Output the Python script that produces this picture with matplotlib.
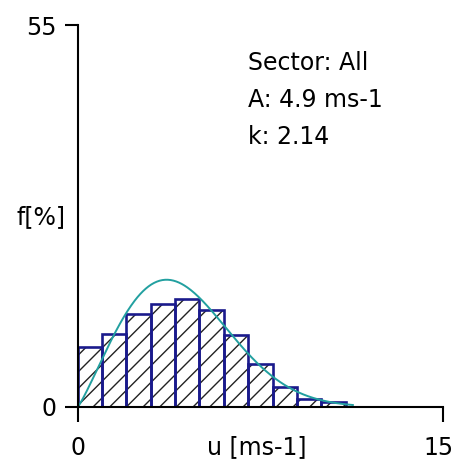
import numpy as np
import matplotlib
matplotlib.use('Agg')
import matplotlib.pyplot as plt
import matplotlib.transforms as mtransforms

# wind speed bins [m/s] and observed frequency [%]
bin_lo = [0, 1, 2, 3, 4, 5, 6, 7, 8, 9, 10]
freq = [8.7, 10.5, 13.4, 14.9, 15.6, 14.0, 10.3, 6.2, 2.9, 1.2, 0.7]

# fitted Weibull parameters
A = 4.9
k = 2.14
u_max = 11.3

plt.rcParams['font.family'] = ['DejaVu Sans']
plt.rcParams['hatch.linewidth'] = 1.0

fig = plt.figure(figsize=(4.56, 4.59), dpi=100)
ax = fig.add_axes([0.1704, 0.1133, 0.801, 0.832])

# hatch first (black), then navy outlines on top
ax.bar(bin_lo, freq, width=1.0, align='edge', facecolor='white',
       edgecolor='#222222', linewidth=0, hatch='//')
ax.bar(bin_lo, freq, width=1.0, align='edge', fill=False,
       edgecolor='#1a1a8c', linewidth=1.9)

u = np.linspace(0, u_max, 300)
f = 100 * (k / A) * (u / A) ** (k - 1) * np.exp(-(u / A) ** k)
ax.plot(u, f, color='#22a0a0', linewidth=1.4)

ax.set_xlim(0, 15)
ax.set_ylim(0, 55)
ax.set_xticks([0, 15])
ax.set_yticks([0, 55])
for side in ['top', 'right']:
    ax.spines[side].set_visible(False)
for side in ['left', 'bottom']:
    ax.spines[side].set_linewidth(1.5)
ax.tick_params(axis='x', length=11, width=1.5, pad=10, labelsize=17)
ax.tick_params(axis='y', length=9.5, width=1.5, pad=6, labelsize=17)

# nudge the "15" so it stays inside the figure
shift = mtransforms.ScaledTranslation(-4 / 100, 0, fig.dpi_scale_trans)
last = ax.get_xticklabels()[-1]
last.set_transform(last.get_transform() + shift)

ax.set_xlabel('u [ms-1]', fontsize=17)
ax.xaxis.set_label_coords(0.491, -0.105)
ax.xaxis.label.set_va('center')
ax.set_ylabel('f[%]', fontsize=17, rotation=0, ha='center', va='center')
ax.yaxis.set_label_coords(-0.10, 0.497)

ax.text(7.0, 49.6, 'Sector: All', fontsize=17, va='center', ha='left')
ax.text(7.0, 44.2, 'A: 4.9 ms-1', fontsize=17, va='center', ha='left')
ax.text(7.0, 38.9, 'k: 2.14', fontsize=17, va='center', ha='left')

fig.savefig('out.png', dpi=100)
